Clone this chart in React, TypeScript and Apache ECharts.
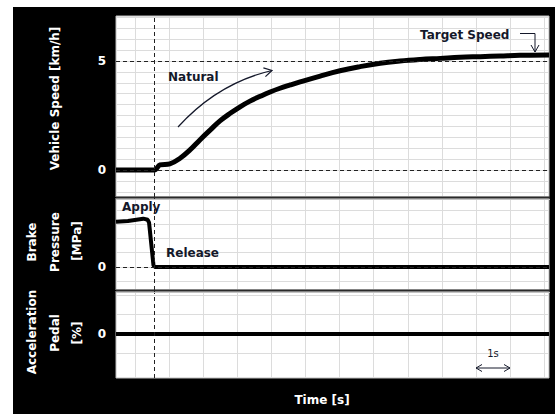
import React, { useEffect, useRef } from "react";
import * as echarts from "echarts";

// ---- data (time in s from left edge of plot) ----
const speedTime = [0, 1.124, 1.29, 1.58, 1.88, 2.17, 2.46, 2.76, 3.05, 3.35, 3.64, 3.93, 4.23, 4.52, 4.81, 5.11, 5.4, 5.99, 6.57, 7.16, 7.75, 8.33, 8.92, 9.51, 10.09, 10.68, 11.27, 11.85, 12.7];
const speedValue = [0, 0, 0.23, 0.28, 0.54, 0.92, 1.38, 1.83, 2.25, 2.6, 2.9, 3.16, 3.38, 3.58, 3.75, 3.9, 4.04, 4.31, 4.55, 4.74, 4.9, 5.0, 5.07, 5.12, 5.17, 5.2, 5.23, 5.26, 5.28];
const brakeTime = [0, 0.35, 0.8, 0.93, 0.97, 1.1, 1.15, 12.7];
const brakeValue = [3.17, 3.22, 3.38, 3.3, 3.1, 0.1, 0, 0];
const pedalTime = [0, 12.7];
const pedalValue = [0, 0];
const releaseTime = 1.124;
const targetSpeed = 5;
const timeMax = 12.7;
const gridTimes = [0.559, 1.559, 2.559, 3.559, 4.559, 5.559, 6.559, 7.559, 8.559, 9.559, 10.559, 11.559, 12.559];
const speedGridValues = [-1, -0.5, 0, 0.5, 1, 1.5, 2, 2.5, 3, 3.5, 4, 4.5, 5, 5.5, 6, 6.5, 7];
const brakeGridValues = [-1, 0, 1, 2, 3, 4];
const pedalGridValues = [-1, 0, 1, 2];
const speedTicks = [0, 5];
const brakeTicks = [0];
const pedalTicks = [0];

const FONT = "DejaVu Sans";
const ANN = "#14182a";

function zip(a: number[], b: number[]) {
  return a.map((t, i) => [t, b[i]]);
}

function arrowHead(tipX: number, tipY: number, dx: number, dy: number, len: number) {
  const l = Math.hypot(dx, dy);
  const ux = dx / l, uy = dy / l;
  const ang = Math.PI / 6;
  const pts: number[][] = [];
  for (const s of [1, -1]) {
    const c = Math.cos(s * ang), sn = Math.sin(s * ang);
    const rx = ux * c - uy * sn, ry = ux * sn + uy * c;
    pts.push([tipX - rx * len, tipY - ry * len]);
  }
  return [pts[0], [tipX, tipY], pts[1]];
}

export default function App() {
  const ref = useRef<HTMLDivElement>(null);
  useEffect(() => {
    if (!ref.current) return;
    const chart = echarts.init(ref.current, undefined, { renderer: "svg" });
    const gl = { color: "#dcdcdc", width: 1 };
    const dashed = { color: "#222", width: 1, type: [4, 3] as any };
    const gridBase = { left: 103, width: 433, show: true, backgroundColor: "#fff", borderColor: "#bdbdbd", borderWidth: 1 };
    const xAx = (i: number) => ({
      type: "value", gridIndex: i, min: 0, max: timeMax,
      axisLine: { show: false }, axisLabel: { show: false },
      axisTick: { show: false, customValues: gridTimes },
      splitLine: { show: true, lineStyle: gl },
    });
    const yAx = (i: number, min: number, max: number, grid: number[], ticks: number[]) => ({
      type: "value", gridIndex: i, min, max,
      axisLine: { show: false },
      axisTick: { show: false, customValues: grid },
      axisLabel: { customValues: ticks, color: "#fff", fontWeight: "bold", fontSize: 12, fontFamily: FONT, margin: 10 },
      splitLine: { show: true, lineStyle: gl },
    });
    const vline = { xAxis: releaseTime };
    const txt = (x: number, y: number, s: string, extra: any = {}) => ({
      type: "text", x, y, z: 20,
      style: { text: s, fill: ANN, font: `bold 12px "${FONT}"`, textAlign: "left", textVerticalAlign: "middle", ...extra },
    });
    const rtxt = (x: number, y: number, s: string) => ({
      type: "text", x, y, rotation: Math.PI / 2, z: 20,
      style: { text: s, fill: "#fff", font: `bold 12px "${FONT}"`, textAlign: "center", textVerticalAlign: "middle" },
    });
    const natHead = arrowHead(259, 63.5, 54, -12.5, 9);
    const option: any = {
      animation: false,
      backgroundColor: "#000",
      grid: [
        { ...gridBase, top: 9, height: 181 },
        { ...gridBase, top: 191, height: 92 },
        { ...gridBase, top: 284, height: 87 },
      ],
      xAxis: [xAx(0), xAx(1), xAx(2)],
      yAxis: [
        yAx(0, -1.239, 7.064, speedGridValues, speedTicks),
        yAx(1, -1.608, 4.825, brakeGridValues, brakeTicks),
        yAx(2, -2.256, 2.205, pedalGridValues, pedalTicks),
      ],
      series: [
        {
          type: "line", xAxisIndex: 0, yAxisIndex: 0, data: zip(speedTime, speedValue),
          showSymbol: false, smooth: 0.4, lineStyle: { color: "#000", width: 5 }, z: 3,
          markLine: { silent: true, symbol: "none", label: { show: false }, lineStyle: dashed, data: [vline, { yAxis: targetSpeed }, { yAxis: 0 }] },
        },
        {
          type: "line", xAxisIndex: 1, yAxisIndex: 1, data: zip(brakeTime, brakeValue),
          showSymbol: false, lineStyle: { color: "#000", width: 4 }, z: 3,
          markLine: { silent: true, symbol: "none", label: { show: false }, lineStyle: dashed, data: [vline, { yAxis: 0 }] },
        },
        {
          type: "line", xAxisIndex: 2, yAxisIndex: 2, data: zip(pedalTime, pedalValue),
          showSymbol: false, lineStyle: { color: "#000", width: 4 }, z: 3,
          markLine: { silent: true, symbol: "none", label: { show: false }, lineStyle: dashed, data: [vline] },
        },
      ],
      graphic: [
        { type: "line", z: 15, shape: { x1: 103, y1: 190.5, x2: 537, y2: 190.5 }, style: { stroke: "#2a2a2a", lineWidth: 2 } },
        { type: "line", z: 15, shape: { x1: 103, y1: 283.5, x2: 537, y2: 283.5 }, style: { stroke: "#2a2a2a", lineWidth: 2 } },
        { type: "line", z: 15, shape: { x1: 103, y1: 192.5, x2: 537, y2: 192.5 }, style: { stroke: "#c4c4c4", lineWidth: 1 } },
        { type: "line", z: 15, shape: { x1: 103, y1: 285.5, x2: 537, y2: 285.5 }, style: { stroke: "#c4c4c4", lineWidth: 1 } },
        txt(155, 70, "Natural"),
        { type: "bezierCurve", z: 20, shape: { x1: 165, y1: 120, cpx1: 205, cpy1: 76, x2: 259, y2: 63.5 }, style: { stroke: ANN, lineWidth: 1.2, fill: null } },
        { type: "polyline", z: 20, shape: { points: natHead }, style: { stroke: ANN, lineWidth: 1.2, fill: null } },
        txt(407, 28, "Target Speed"),
        { type: "polyline", z: 20, shape: { points: [[507, 26.5], [522, 26.5], [522, 45]] }, style: { stroke: ANN, lineWidth: 1, fill: null } },
        { type: "polyline", z: 20, shape: { points: [[518, 38], [522, 45], [526, 38]] }, style: { stroke: ANN, lineWidth: 1, fill: null } },
        txt(109, 200, "Apply"),
        txt(153, 246, "Release"),
        txt(480, 346, "1s", { font: `10px "${FONT}"`, textAlign: "center" }),
        { type: "line", z: 20, shape: { x1: 463, y1: 361, x2: 497, y2: 361 }, style: { stroke: ANN, lineWidth: 1 } },
        { type: "polyline", z: 20, shape: { points: [[469, 357.5], [463, 361], [469, 364.5]] }, style: { stroke: ANN, lineWidth: 1, fill: null } },
        { type: "polyline", z: 20, shape: { points: [[491, 357.5], [497, 361], [491, 364.5]] }, style: { stroke: ANN, lineWidth: 1, fill: null } },
        { type: "text", x: 309, y: 393, z: 20, style: { text: "Time [s]", fill: "#fff", font: `bold 12px "${FONT}"`, textAlign: "center", textVerticalAlign: "middle" } },
        rtxt(42, 91.5, "Vehicle Speed [km/h]"),
        rtxt(19, 235, "Brake"),
        rtxt(42, 235, "Pressure"),
        rtxt(64, 234, "[MPa]"),
        rtxt(19, 325, "Acceleration"),
        rtxt(42, 326, "Pedal"),
        rtxt(64, 326, "[%]"),
      ],
    };
    chart.setOption(option);
    return () => chart.dispose();
  }, []);
  return (
    <div style={{ position: "fixed", left: 0, top: 0, width: 555, height: 414, background: "#fff" }}>
      <div ref={ref} style={{ position: "absolute", left: 13, top: 7, width: 542, height: 407 }} />
    </div>
  );
}
